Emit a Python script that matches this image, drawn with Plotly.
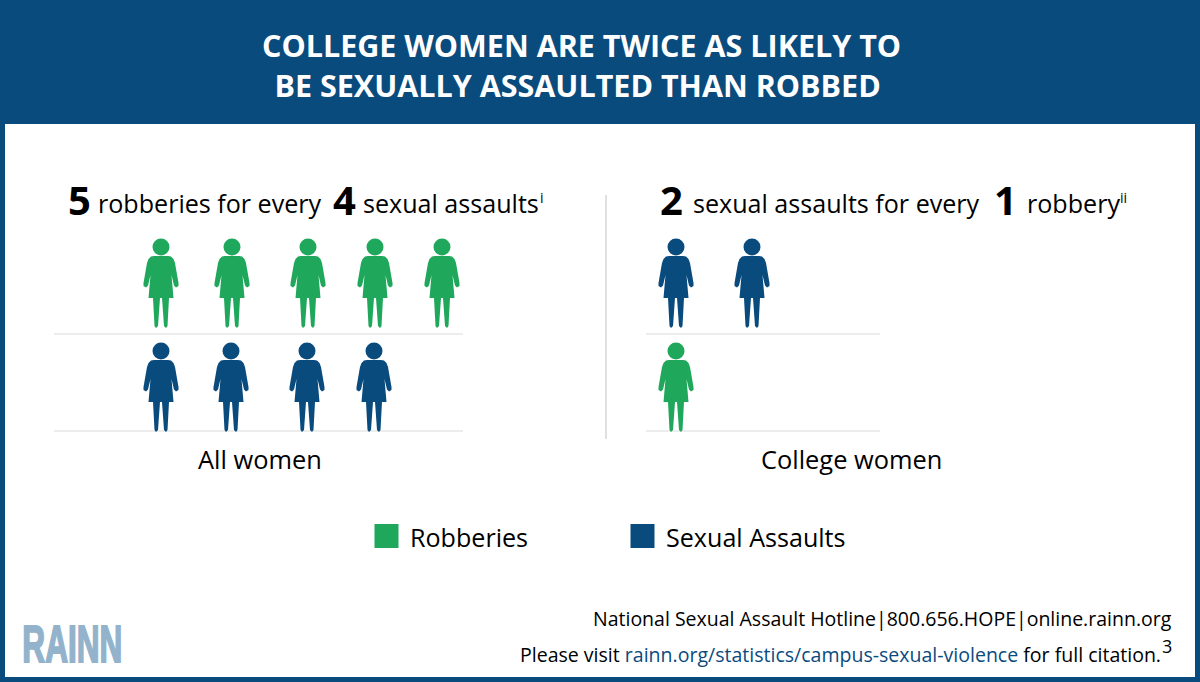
import plotly.graph_objects as go

BLUE = '#0A4B7E'
GREEN = '#1FA85C'
FONT = 'Open Sans'

# values
groups = ['All women', 'College women']
robberies = [5, 1]
assaults = [4, 2]

title_lines = ['COLLEGE WOMEN ARE TWICE AS LIKELY TO', 'BE SEXUALLY ASSAULTED THAN ROBBED']
legend_names = ['Robberies', 'Sexual Assaults']

# where the people stand
left_top = [161, 232, 308, 375, 442]
left_bottom = [161, 231, 307, 374]
right_top = [676, 752]
right_bottom = [676]
row_tops = [239, 343]


def person_path(cx, top):
    # right side of the figure, then mirrored for the left side
    side = [
        (7, 17), (10, 17.5), (12.5, 20), (14, 24), (17.5, 44), (17.5, 47), (15, 48.5), (13, 46.5),
        (10.5, 36), (12.5, 59), (8, 59), (6.5, 87), (5, 89), (3, 87), (1, 59),
    ]
    pts = side + [(-x, y) for x, y in reversed(side)]
    d = 'M ' + ' L '.join(f'{cx + x},{top + y}' for x, y in pts) + ' Z'
    return d


fig = go.Figure()


def add_people(xs, top, color):
    fig.add_trace(go.Scatter(
        x=xs,
        y=[top + 8] * len(xs),
        mode='markers',
        marker=dict(color=color, size=17, line=dict(width=0)),
        showlegend=False,
        hoverinfo='skip'
    ))
    for cx in xs:
        fig.add_shape(type='path', path=person_path(cx, top), fillcolor=color, line=dict(width=0), layer='above')


add_people(left_top[:robberies[0]], row_tops[0], GREEN)
add_people(left_bottom[:assaults[0]], row_tops[1], BLUE)
add_people(right_top[:assaults[1]], row_tops[0], BLUE)
add_people(right_bottom[:robberies[1]], row_tops[1], GREEN)

# legend swatches
fig.add_trace(go.Scatter(
    x=[386.5, 642.5],
    y=[536, 536],
    mode='markers',
    marker=dict(color=[GREEN, BLUE], size=24, symbol='square', line=dict(width=0)),
    showlegend=False,
    hoverinfo='skip'
))

# frame and header
fig.add_shape(type='rect', x0=0, x1=1200, y0=0, y1=124, fillcolor=BLUE, line=dict(width=0), layer='below')
fig.add_shape(type='rect', x0=0, x1=5, y0=0, y1=682, fillcolor=BLUE, line=dict(width=0), layer='below')
fig.add_shape(type='rect', x0=1195, x1=1200, y0=0, y1=682, fillcolor=BLUE, line=dict(width=0), layer='below')
fig.add_shape(type='rect', x0=0, x1=1200, y0=677, y1=682, fillcolor=BLUE, line=dict(width=0), layer='below')

# row baselines and divider
for x0, x1, y in [(54, 463, 334), (54, 463, 431), (646, 880, 334), (646, 880, 431)]:
    fig.add_shape(type='line', x0=x0, x1=x1, y0=y, y1=y, line=dict(color='#EDEDED', width=2), layer='below')
fig.add_shape(type='line', x0=606, x1=606, y0=195, y1=439, line=dict(color='#E0E0E0', width=2), layer='below')


def label(x, y, text, size, color='black', anchor='left', bold=False, family=FONT):
    fig.add_annotation(
        x=x, y=y, text=f'<b>{text}</b>' if bold else text,
        showarrow=False, xanchor=anchor, yanchor='middle',
        font=dict(family=family, size=size, color=color)
    )


# one block, the trailing space nudges line two left like the original
label(581, 65, f'{title_lines[0]}<br>{title_lines[1]}&nbsp;', 30.5, 'white', 'center', True)

label(66, 199, str(robberies[0]), 40, bold=True)
label(96, 203, 'robberies for every', 25.1)
label(331, 199, str(assaults[0]), 40, bold=True)
label(361, 203, 'sexual assaults', 25.1)
label(538, 197, 'i', 14)

label(658, 199, str(assaults[1]), 40, bold=True)
label(691, 203, 'sexual assaults for every', 25.1)
label(992, 199, str(robberies[1]), 40, bold=True)
label(1025, 203, 'robbery', 25.1)
label(1118, 197, 'ii', 14)

label(260, 459, groups[0], 25.4, anchor='center')
label(851, 459, groups[1], 25.4, anchor='center')

label(408, 537, legend_names[0], 25.1)
label(664, 537, legend_names[1], 25.1)

label(1174, 618, 'National Sexual Assault Hotline|800.656.HOPE|online.rainn.org', 19.5, anchor='right')
label(1163, 654, f'Please visit <span style="color:{BLUE}">rainn.org/statistics/campus-sexual-violence</span> for full citation.', 19.55, anchor='right')
label(1160, 646, '3', 18)
label(72, 644, 'RAINN', 52, '#93B3CC', anchor='center', bold=True, family='Liberation Sans')

fig.update_xaxes(range=[0, 1200], visible=False, fixedrange=True)
fig.update_yaxes(range=[682, 0], visible=False, fixedrange=True)
fig.update_layout(
    width=1200, height=682,
    margin=dict(l=0, r=0, t=0, b=0),
    paper_bgcolor='white', plot_bgcolor='white',
    showlegend=False
)

# squeeze the logo word to its width and drop the page margin
squeeze = """
document.body.style.margin = '0';
document.querySelectorAll('.annotation-text').forEach(function (t) {
    if (t.textContent === 'RAINN') {
        t.setAttribute('textLength', '100');
        t.setAttribute('lengthAdjust', 'spacingAndGlyphs');
        t.style.stroke = '#93B3CC';
        t.style.strokeWidth = '2px';
    }
});
"""
fig.write_html('out.html', post_script=squeeze, config={'displayModeBar': False})
